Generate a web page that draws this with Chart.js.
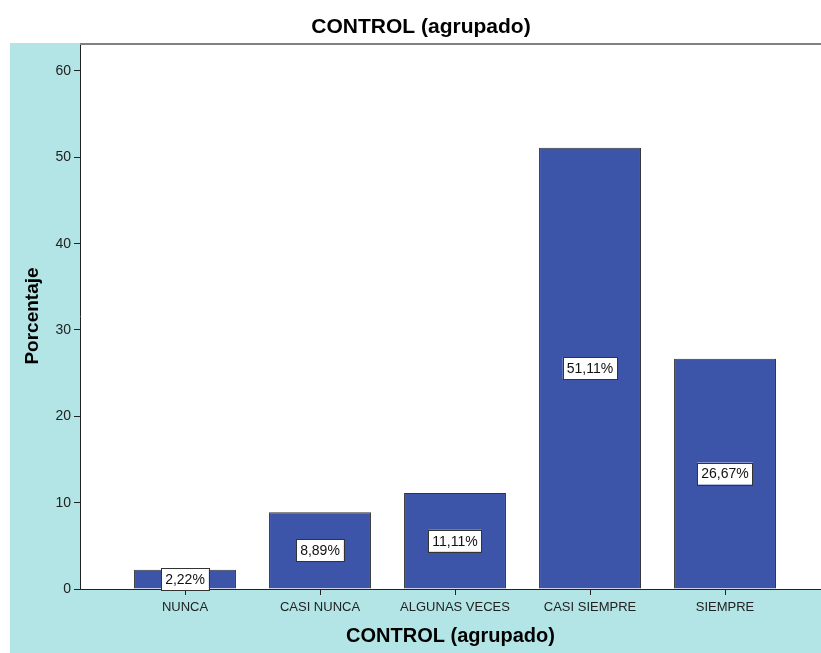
<!DOCTYPE html>
<html>
<head>
<meta charset="utf-8">
<script src="https://cdn.jsdelivr.net/npm/chart.js@4.4.0/dist/chart.umd.min.js"></script>
<style>
  html, body { margin: 0; padding: 0; background: #fff; }
  #wrap { width: 821px; height: 653px; }
</style>
</head>
<body>
<div id="wrap"><canvas id="chart" width="821" height="653"></canvas></div>
<script>
// data
const categories = ['NUNCA', 'CASI NUNCA', 'ALGUNAS VECES', 'CASI SIEMPRE', 'SIEMPRE'];
const percentages = [2.22, 8.89, 11.11, 51.11, 26.67];
const yTicks = [0, 10, 20, 30, 40, 50, 60];
const chartTitle = 'CONTROL (agrupado)';
const xTitle = 'CONTROL (agrupado)';
const yTitle = 'Porcentaje';

const CYAN = '#b3e5e6';
const BAR = '#3d55a9';
const FONT = '"Liberation Sans", Arial, sans-serif';

// backgrounds + frame + title (SPSS look)
const frame = {
  id: 'frame',
  beforeDraw(chart) {
    const { ctx, chartArea: a, width, height } = chart;
    ctx.save();
    ctx.fillStyle = '#fff';
    ctx.fillRect(0, 0, width, height);
    ctx.fillStyle = CYAN;
    ctx.fillRect(10, a.top, width - 10, height - a.top);
    ctx.fillStyle = '#fff';
    ctx.fillRect(a.left, a.top, a.right - a.left, a.bottom - a.top);
    ctx.fillStyle = '#000';
    ctx.font = 'bold 21px ' + FONT;
    ctx.textAlign = 'center';
    ctx.textBaseline = 'middle';
    ctx.fillText(chartTitle, 421, 27);
    ctx.restore();
  },
  afterDraw(chart) {
    const { ctx, chartArea: a } = chart;
    ctx.save();
    ctx.strokeStyle = '#808080';
    ctx.lineWidth = 2;
    ctx.beginPath();
    ctx.moveTo(a.left, a.top + 1);
    ctx.lineTo(a.right, a.top + 1);
    ctx.stroke();
    ctx.restore();
  }
};

// white boxed value labels in the middle of each bar
const boxLabels = {
  id: 'boxLabels',
  afterDatasetsDraw(chart) {
    const { ctx } = chart;
    const meta = chart.getDatasetMeta(0);
    ctx.save();
    ctx.font = '14px ' + FONT;
    ctx.textAlign = 'center';
    ctx.textBaseline = 'middle';
    meta.data.forEach((bar, i) => {
      const { x, y, base } = bar.getProps(['x', 'y', 'base'], true);
      const cy = (y + base) / 2;
      const txt = percentages[i].toFixed(2).replace('.', ',') + '%';
      const w = ctx.measureText(txt).width + 8;
      const h = 22;
      ctx.fillStyle = '#fff';
      ctx.fillRect(x - w / 2, cy - h / 2, w, h);
      ctx.strokeStyle = '#333';
      ctx.lineWidth = 1;
      ctx.strokeRect(Math.round(x - w / 2) + 0.5, Math.round(cy - h / 2) + 0.5, Math.round(w), h);
      ctx.fillStyle = '#111';
      ctx.fillText(txt, x, cy + 1);
    });
    ctx.restore();
  }
};

new Chart(document.getElementById('chart'), {
  type: 'bar',
  data: {
    datasets: [{
      data: percentages.map((v, i) => ({ x: i + 1, y: v })),
      backgroundColor: BAR,
      borderColor: '#333',
      borderWidth: 1,
      barPercentage: 0.755,
      categoryPercentage: 1
    }]
  },
  options: {
    responsive: false,
    animation: false,
    layout: { padding: { top: 43, right: 0, left: 0, bottom: 0 } },
    plugins: { legend: { display: false }, tooltip: { enabled: false }, title: { display: false } },
    scales: {
      x: {
        type: 'linear',
        offset: false,
        min: 0.2222,
        max: 5.711,
        afterBuildTicks(scale) {
          scale.ticks = categories.map((c, i) => ({ value: i + 1 }));
        },
        afterFit(scale) { scale.height = 64; },
        ticks: {
          color: '#222',
          font: { family: FONT, size: 13 },
          padding: 5,
          maxRotation: 0,
          autoSkip: false,
          callback: (v) => categories[v - 1] || ''
        },
        grid: { offset: false, drawOnChartArea: false, tickLength: 6, color: '#222' },
        border: { color: '#222', width: 1 },
        title: {
          display: true, text: xTitle, color: '#000',
          font: { family: FONT, size: 20, weight: 'bold' },
          padding: { top: 0, bottom: 5 }
        }
      },
      y: {
        min: 0,
        max: 63.24,
        afterBuildTicks(scale) {
          scale.ticks = yTicks.map(v => ({ value: v }));
        },
        afterFit(scale) { scale.width = 80; },
        ticks: {
          color: '#222',
          font: { family: FONT, size: 14 },
          padding: 3
        },
        grid: { drawOnChartArea: false, tickLength: 6, color: '#222' },
        border: { color: '#222', width: 1 },
        title: {
          display: true, text: yTitle, color: '#000',
          font: { family: FONT, size: 19, weight: 'bold' },
          padding: { top: 21, bottom: 0 }
        }
      }
    }
  },
  plugins: [frame, boxLabels]
});
</script>
</body>
</html>
